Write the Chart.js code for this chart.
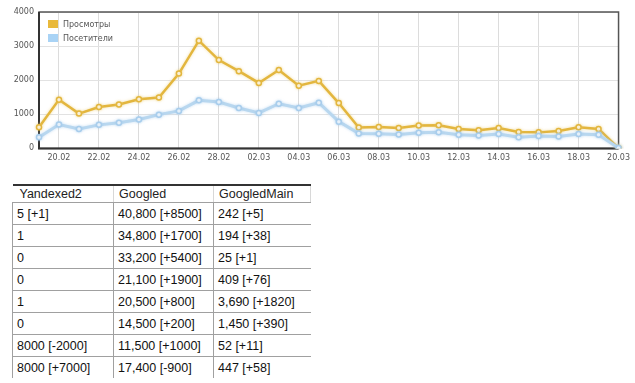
<!DOCTYPE html>
<html>
<head>
<meta charset="utf-8">
<script src="https://cdn.jsdelivr.net/npm/chart.js@4/dist/chart.umd.min.js"></script>
<style>
  html, body { margin: 0; padding: 0; background: #fff; }
  #wrap { position: relative; width: 635px; height: 383px; overflow: hidden; }
  #chartBox { position: absolute; left: 0; top: 0; width: 635px; height: 168px; }
  #stats { position: absolute; left: 12px; top: 184px; border-collapse: collapse; table-layout: fixed;
    width: 298px; font-family: "Liberation Sans", Arial, sans-serif; font-size: 12.5px; color: #111; }
  #stats th { font-weight: normal; text-align: left; height: 16px; padding: 0 0 0 5px;
    border-top: 2px solid #333; border-bottom: 1px solid #a0a0a0; border-right: 1px solid #d8d8d8; color: #222; }
  #stats th:first-child { padding-left: 7px; }
  #stats td { height: 21px; padding: 0 0 0 4px; border-left: 1px solid #a0a0a0;
    border-bottom: 1px solid #a0a0a0; white-space: nowrap; }
  #stats tr:last-child td { border-bottom: none; }
</style>
</head>
<body>
<div id="wrap">
  <div id="chartBox"><canvas id="trafficChart"></canvas></div>
  <table id="stats"><colgroup><col style="width:101px"><col style="width:100px"><col style="width:97px"></colgroup><thead><tr></tr></thead><tbody></tbody></table>
</div>
<script>
const days = ['19.02','20.02','21.02','22.02','23.02','24.02','25.02','26.02','27.02','28.02',
  '01.03','02.03','03.03','04.03','05.03','06.03','07.03','08.03','09.03','10.03',
  '11.03','12.03','13.03','14.03','15.03','16.03','17.03','18.03','19.03','20.03'];
const views = [620,1430,1020,1215,1285,1440,1490,2195,3160,2590,
  2265,1920,2300,1840,1980,1330,610,630,600,670,
  680,570,530,600,480,470,510,620,570,10];
const visitors = [330,700,570,690,755,850,990,1100,1410,1360,
  1185,1040,1310,1185,1340,785,440,430,410,460,
  470,400,380,420,330,360,350,420,400,10];
const yTicks = [0,1000,2000,3000,4000];

const tableHead = ['Yandexed2','Googled','GoogledMain'];
const colYandex = ['5 [+1]','1','0','0','1','0','8000 [-2000]','8000 [+7000]'];
const colGoogled = ['40,800 [+8500]','34,800 [+1700]','33,200 [+5400]','21,100 [+1900]','20,500 [+800]','14,500 [+200]','11,500 [+1000]','17,400 [-900]'];
const colGoogledMain = ['242 [+5]','194 [+38]','25 [+1]','409 [+76]','3,690 [+1820]','1,450 [+390]','52 [+11]','447 [+58]'];

// table
const headRow = document.querySelector('#stats thead tr');
tableHead.forEach(h => {
  const th = document.createElement('th');
  th.textContent = h;
  headRow.appendChild(th);
});
const tbody = document.querySelector('#stats tbody');
colYandex.forEach((v, i) => {
  const tr = document.createElement('tr');
  [v, colGoogled[i], colGoogledMain[i]].forEach(txt => {
    const td = document.createElement('td');
    td.textContent = txt;
    tr.appendChild(td);
  });
  tbody.appendChild(tr);
});

// legend inside plot + frame
const framePlugin = {
  id: 'frame',
  beforeDatasetsDraw(chart) {
    const { ctx, chartArea: a } = chart;
    ctx.save();
    ctx.strokeStyle = '#555';
    ctx.lineWidth = 1.5;
    ctx.strokeRect(a.left, a.top, a.right - a.left, a.bottom - a.top);
    ctx.strokeStyle = '#333';
    ctx.lineWidth = 2;
    ctx.beginPath();
    ctx.moveTo(a.left, a.top);
    ctx.lineTo(a.left, a.bottom);
    ctx.lineTo(a.right, a.bottom);
    ctx.stroke();
    ctx.restore();
  },
  afterDraw(chart) {
    const { ctx, chartArea: a } = chart;
    const items = [['Просмотры', '#e9b93b'], ['Посетители', '#a9d3f5']];
    ctx.save();
    ctx.font = '8px "DejaVu Sans"';
    ctx.textBaseline = 'middle';
    items.forEach((it, i) => {
      const y = a.top + 8 + i * 14;
      ctx.fillStyle = it[1];
      ctx.fillRect(a.left + 9, y, 10, 8);
      ctx.fillStyle = '#555';
      ctx.fillText(it[0], a.left + 24, y + 4.5);
    });
    ctx.restore();
  }
};

const glowPlugin = {
  id: 'glow',
  beforeDatasetDraw(chart, args) {
    const ctx = chart.ctx;
    ctx.save();
    ctx.shadowColor = args.index === 0 ? 'rgba(233,200,100,0.6)' : 'rgba(160,200,235,0.6)';
    ctx.shadowBlur = 3;
  },
  afterDatasetDraw(chart) {
    chart.ctx.restore();
  }
};

new Chart(document.getElementById('trafficChart'), {
  type: 'line',
  data: {
    labels: days,
    datasets: [{
      label: 'Просмотры',
      data: views,
      borderColor: '#e3b63e',
      borderWidth: 2.5,
      pointRadius: 2.5,
      pointBorderWidth: 1.5,
      pointBackgroundColor: '#fff',
      pointBorderColor: '#e3b63e',
      tension: 0,
      order: 1
    }, {
      label: 'Посетители',
      data: visitors,
      borderColor: '#b8d7ef',
      borderWidth: 3,
      pointRadius: 2.5,
      pointBorderWidth: 1.5,
      pointBackgroundColor: '#fff',
      pointBorderColor: '#a8cdec',
      tension: 0,
      order: 0
    }]
  },
  options: {
    responsive: true,
    maintainAspectRatio: false,
    animation: false,
    layout: { padding: { top: 12, right: 15, left: 0, bottom: 0 } },
    plugins: {
      legend: { display: false },
      tooltip: { enabled: false }
    },
    scales: {
      x: {
        grid: {
          color: c => (c.index % 2 === 1 ? '#dcdcdc' : 'rgba(0,0,0,0)'),
          drawTicks: false
        },
        border: { display: false },
        ticks: {
          autoSkip: false,
          maxRotation: 0,
          padding: 5,
          color: '#555',
          font: { family: 'DejaVu Sans', size: 8 },
          callback: (v, i) => (i % 2 === 1 ? days[i] : '')
        }
      },
      y: {
        min: 0,
        max: 4000,
        afterBuildTicks: s => { s.ticks = yTicks.map(v => ({ value: v })); },
        afterFit: s => { s.width = 39; },
        grid: { color: '#e2e2e2', drawTicks: false },
        border: { display: false },
        ticks: {
          padding: 5,
          color: '#555',
          font: { family: 'DejaVu Sans', size: 8 },
          callback: v => String(v)
        }
      }
    }
  },
  plugins: [framePlugin, glowPlugin]
});
</script>
</body>
</html>
